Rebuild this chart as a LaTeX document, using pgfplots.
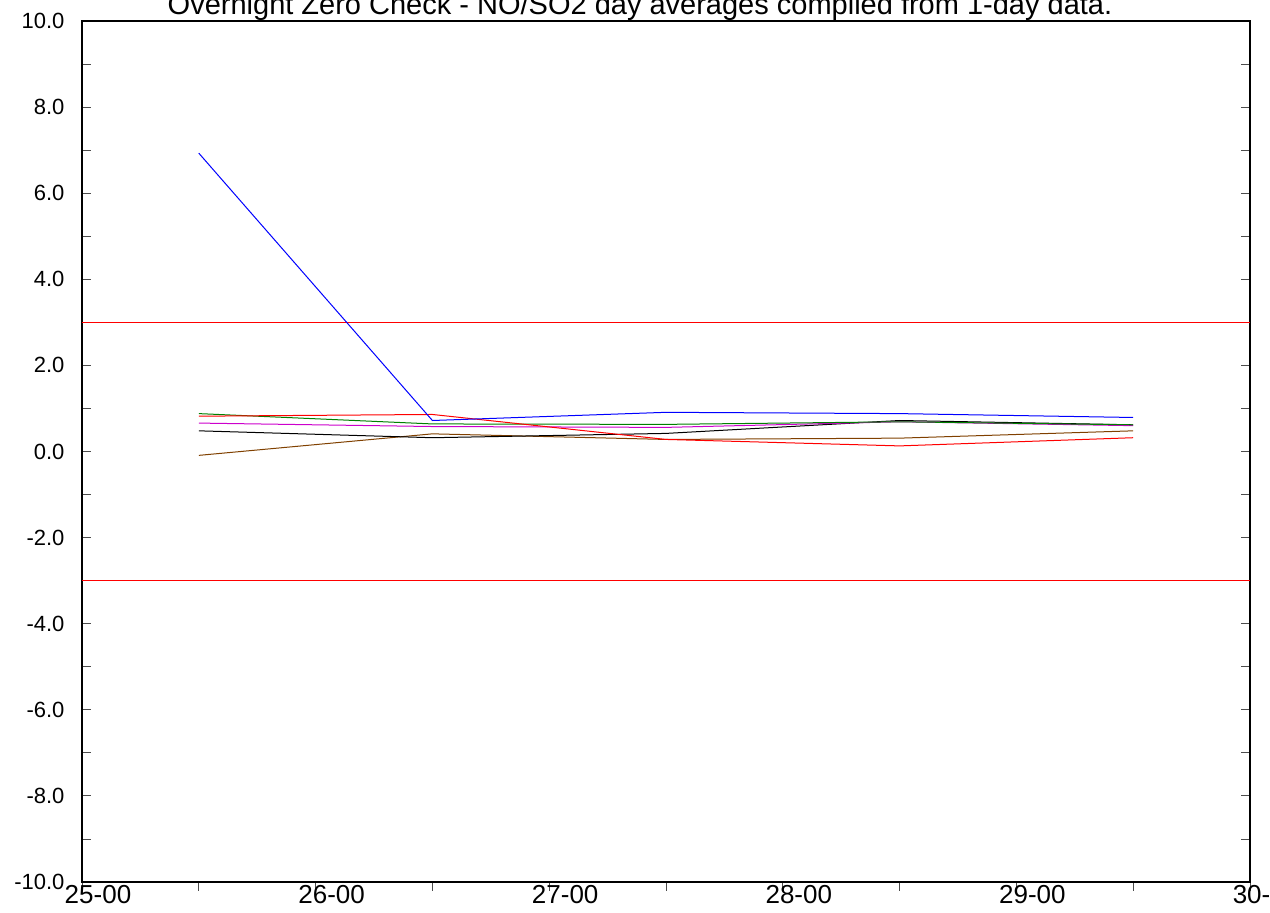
\documentclass[border=0pt]{standalone}
\usepackage{pgfplots}
\pgfplotsset{compat=1.18}
\usepackage{fontspec}
\setmainfont{Liberation Sans}
\definecolor{cblue}{RGB}{0,0,255}
\definecolor{cred}{RGB}{255,0,0}
\definecolor{cgreen}{RGB}{0,128,0}
\definecolor{cmag}{RGB}{204,0,204}
\definecolor{cbrown}{RGB}{128,64,0}
\begin{document}
\begin{tikzpicture}
\begin{axis}[
  at={(0pt,0pt)}, anchor=south west,
  scale only axis, width=1168pt, height=861pt,
  xmin=25, xmax=30, ymin=-10, ymax=10,
  axis line style={line width=1.2pt},
  xtick={25,26,27,28,29,30},
  xticklabels={25-00,26-00,27-00,28-00,29-00,30-00},
  minor xtick={25.5,26.5,27.5,28.5,29.5},
  xtick pos=bottom, xtick align=outside,
  ytick={-10,-8,...,10},
  minor ytick={-9,-7,...,9},
  ytick pos=both, yticklabel pos=left, ytick align=inside,
  major tick length=9pt, minor tick length=9pt,
  tick style={line width=0.8pt, black!70},
  yticklabel={\pgfmathprintnumber[fixed,fixed zerofill,precision=1]{\tick}},
  /pgf/number format/assume math mode=true,
  yticklabel style={font=\fontsize{22}{26}\selectfont, xshift=-14pt},
  xticklabel style={font=\fontsize{26}{30}\selectfont, xshift=16pt, yshift=9pt},
  clip=false,
]
\addplot[cred, line width=0.8pt] coordinates {(25,3) (30,3)};
\addplot[cred, line width=0.8pt] coordinates {(25,-3) (30,-3)};
\addplot[cbrown, line width=1pt] coordinates {(25.5,-0.09) (26.5,0.41) (27.5,0.28) (28.5,0.31) (29.5,0.48)};
\addplot[black, line width=1pt] coordinates {(25.5,0.48) (26.5,0.32) (27.5,0.42) (28.5,0.72) (29.5,0.62)};
\addplot[cmag, line width=1pt] coordinates {(25.5,0.66) (26.5,0.58) (27.5,0.56) (28.5,0.69) (29.5,0.60)};
\addplot[cgreen, line width=1pt] coordinates {(25.5,0.88) (26.5,0.64) (27.5,0.63) (28.5,0.69) (29.5,0.62)};
\addplot[cred, line width=1pt] coordinates {(25.5,0.82) (26.5,0.86) (27.5,0.28) (28.5,0.13) (29.5,0.32)};
\addplot[cblue, line width=1pt] coordinates {(25.5,6.93) (26.5,0.72) (27.5,0.91) (28.5,0.88) (29.5,0.79)};
\node[anchor=base, font=\fontsize{29}{33}\selectfont] at ([xshift=-26pt,yshift=6pt]rel axis cs:0.5,1) {Overnight Zero Check - NO/SO2 day averages compiled from 1-day data.};
\end{axis}
\pgfresetboundingbox
\path[use as bounding box] (-82pt,-31pt) rectangle (1188pt,882pt);
\end{tikzpicture}
\end{document}
